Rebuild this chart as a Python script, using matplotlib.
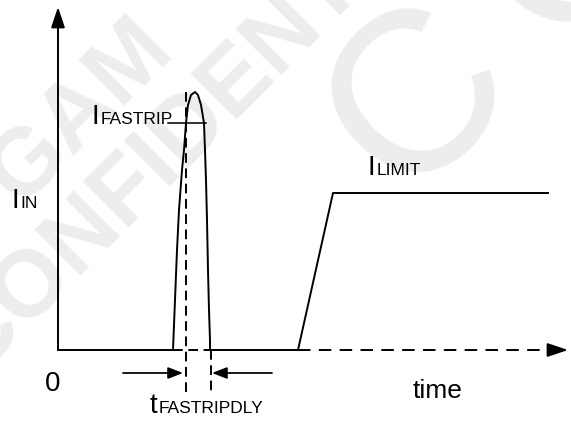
import matplotlib
matplotlib.use("Agg")
import matplotlib.pyplot as plt
import numpy as np

plt.rcParams['font.family'] = ['Liberation Sans', 'DejaVu Sans']
plt.rcParams['lines.scale_dashes'] = False

# ---- data (time units = horizontal pixels from origin, current units = pixels above baseline)
baseline_solid_1 = ([0, 115], [0, 0])
pulse_t = [115, 117, 119, 121, 124, 126, 128, 130, 133, 137, 140, 143, 146, 147, 148, 149, 150, 151, 152, 152]
pulse_i = [0, 50, 100, 140, 180, 200, 227, 245, 255, 258, 255, 245, 227, 200, 170, 130, 80, 40, 10, 0]
baseline_dash_1 = ([115, 152], [0, 0])
baseline_solid_2 = ([152, 240], [0, 0])
limit_t = [240, 275, 490]
limit_i = [0, 157, 157]
baseline_dash_2 = ([240, 494], [0, 0])
fastrip_level = 227
fastrip_line_t = [110, 148]
trip_t = 128
dly_t = 153
delay_arrow_y = -23
xaxis_end = 510
yaxis_top = 343

fig = plt.figure(figsize=(5.71, 4.26), dpi=100)
ax = fig.add_axes([0, 0, 1, 1])
ax.set_xlim(-58, 513)
ax.set_ylim(-76, 350)
ax.axis('off')

lw = 1.4
k = 'black'

# watermark (positions given in picture pixels, converted to data units)
wm = '#ededed'
def px(x, y):
    return x - 58, 350 - y

for txt, (cx, cy), fs, fw in [
    ('GAM', (80, 112), 68, 'bold'),
    ('CONFIDENTIAL', (207, 111), 68, 'bold'),
    ('C', (420, 100), 165, 'normal'),
    ('O', (575, -55), 165, 'normal'),
]:
    ax.text(*px(cx, cy), txt, rotation=45, rotation_mode='anchor', fontsize=fs,
            fontweight=fw, color=wm, ha='center', va='center', zorder=0)

# axes
ax.plot([0, 0], [0, yaxis_top - 18], color=k, lw=lw, solid_capstyle='butt')
ax.annotate('', xy=(0, yaxis_top), xytext=(0, yaxis_top - 19),
            arrowprops=dict(arrowstyle='-|>,head_length=1.25,head_width=0.42', color=k, lw=lw,
                            shrinkA=0, shrinkB=0))
ax.annotate('', xy=(xaxis_end, 0), xytext=(xaxis_end - 19, 0),
            arrowprops=dict(arrowstyle='-|>,head_length=1.25,head_width=0.42', color=k, lw=lw,
                            shrinkA=0, shrinkB=0))

ax.plot(*baseline_solid_1, color=k, lw=lw)
ax.plot(*baseline_dash_1, color=k, lw=lw, dashes=(7, 4))
ax.plot(*baseline_solid_2, color=k, lw=lw)
ax.plot(*baseline_dash_2, color=k, lw=lw, dashes=(9, 6))

# pulse
ax.plot(pulse_t, pulse_i, color=k, lw=lw)
ax.plot(fastrip_line_t, [fastrip_level, fastrip_level], color=k, lw=lw * 0.8)

# limit
ax.plot(limit_t, limit_i, color=k, lw=lw)

# vertical dashed markers
ax.plot([trip_t, trip_t], [258, -42], color=k, lw=lw, dashes=(7, 4))
ax.plot([dly_t, dly_t], [0, -42], color=k, lw=lw, dashes=(7, 4))

# delay arrows
ax.annotate('', xy=(trip_t - 3, delay_arrow_y), xytext=(65, delay_arrow_y),
            arrowprops=dict(arrowstyle='-|>,head_length=0.9,head_width=0.35', color=k, lw=lw * 0.9,
                            shrinkA=0, shrinkB=0))
ax.annotate('', xy=(dly_t + 1, delay_arrow_y), xytext=(214, delay_arrow_y),
            arrowprops=dict(arrowstyle='-|>,head_length=0.9,head_width=0.35', color=k, lw=lw * 0.9,
                            shrinkA=0, shrinkB=0))

big = 20
small = 12.5

def label(x, y, main, sub):
    t = ax.text(x, y, main, fontsize=big, ha='left', va='baseline', color=k)
    fig.canvas.draw()
    bb = t.get_window_extent()
    inv = ax.transData.inverted()
    x2 = inv.transform((bb.x1 + 1, 0))[0]
    ax.text(x2, y, sub, fontsize=small, ha='left', va='baseline', color=k)

label(-46, 142, 'I', 'IN')
label(34, 226, 'I', 'FASTRIP')
label(310, 175, 'I', 'LIMIT')
label(92, -63, 't', 'FASTRIPDLY')
ax.text(-5, -41, '0', fontsize=big, ha='center', va='baseline', color=k)
ax.text(380, -48, 'time', fontsize=19, ha='center', va='baseline', color=k)

fig.savefig('out.png', dpi=100)
